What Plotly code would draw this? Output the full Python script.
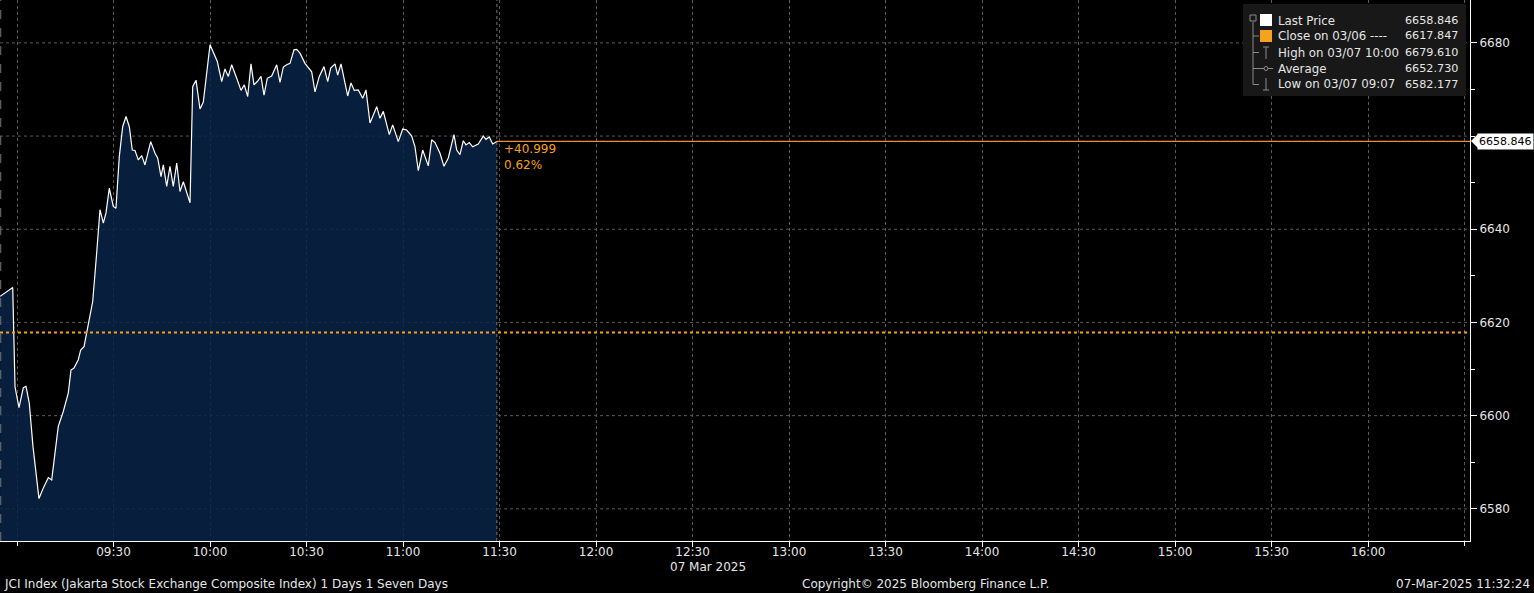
import plotly.graph_objects as go

# ---------------- data ----------------
DAY = "2025-03-07"
times = [
    "08:54:45", "08:58:40", "08:59:23", "09:00:37", "09:01:58", "09:02:48", "09:03:49", "09:04:58",
    "09:06:50", "09:08:11", "09:09:44", "09:10:47", "09:11:49", "09:12:50", "09:14:23", "09:15:57",
    "09:16:47", "09:17:43", "09:19:03", "09:19:48", "09:20:50", "09:21:51", "09:22:41", "09:23:32",
    "09:24:46", "09:25:48", "09:26:50", "09:27:40", "09:28:41", "09:29:56", "09:30:46", "09:31:48",
    "09:32:51", "09:33:53", "09:34:55", "09:35:50", "09:36:41", "09:37:42", "09:38:46", "09:39:47",
    "09:41:34", "09:42:54", "09:43:44", "09:44:46", "09:45:29", "09:46:32", "09:47:33", "09:48:35",
    "09:49:39", "09:50:40", "09:51:42", "09:52:45", "09:53:47", "09:54:37", "09:55:39", "09:56:53",
    "09:57:55", "10:00:00", "10:01:01", "10:02:16", "10:03:38", "10:04:39", "10:05:41", "10:06:44",
    "10:08:18", "10:09:38", "10:10:39", "10:11:43", "10:12:44", "10:13:40", "10:14:42", "10:15:51",
    "10:16:47", "10:17:48", "10:19:10", "10:20:44", "10:21:45", "10:22:47", "10:23:50", "10:24:52",
    "10:26:06", "10:26:57", "10:27:58", "10:29:31", "10:31:36", "10:32:38", "10:33:58", "10:35:26",
    "10:36:35", "10:37:31", "10:38:51", "10:39:41", "10:40:43", "10:41:44", "10:42:48", "10:43:49",
    "10:44:51", "10:46:05", "10:47:28", "10:48:29", "10:49:44", "10:51:49", "10:52:50", "10:53:52",
    "10:55:44", "10:56:47", "10:58:32", "10:59:54", "11:01:08", "11:02:42", "11:03:43", "11:04:45",
    "11:06:07", "11:07:51", "11:08:54", "11:09:56", "11:11:29", "11:12:44", "11:14:04", "11:15:50",
    "11:16:41", "11:17:42", "11:18:44", "11:19:34", "11:20:36", "11:21:39", "11:23:23", "11:24:57",
    "11:25:47", "11:26:49", "11:27:52", "11:29:10",
]
values = [
    6625.6, 6627.5, 6606.2, 6601.7, 6606.0, 6606.3, 6602.7, 6593.4,
    6582.2, 6584.5, 6586.7, 6586.2, 6592.0, 6597.7, 6600.9, 6604.9,
    6609.8, 6610.2, 6612.0, 6614.1, 6614.8, 6618.4, 6622.0, 6624.5,
    6634.9, 6644.2, 6641.3, 6643.5, 6648.8, 6644.9, 6644.5, 6655.6,
    6662.0, 6664.2, 6662.0, 6657.0, 6656.9, 6654.9, 6655.8, 6653.8,
    6658.8, 6656.3, 6655.3, 6651.3, 6653.8, 6649.2, 6653.5, 6649.2,
    6654.2, 6648.1, 6650.2, 6647.7, 6645.7, 6670.6, 6672.0, 6665.8,
    6667.3, 6679.6, 6677.8, 6676.0, 6671.7, 6674.4, 6672.8, 6675.3,
    6672.4, 6669.8, 6671.0, 6668.5, 6675.5, 6671.0, 6671.7, 6672.8,
    6668.8, 6672.4, 6672.9, 6675.3, 6671.5, 6674.8, 6675.3, 6675.6,
    6678.5, 6678.6, 6677.8, 6675.6, 6673.8, 6669.5, 6672.8, 6674.9,
    6671.7, 6674.6, 6675.5, 6673.1, 6675.5, 6672.1, 6668.6, 6671.4,
    6669.8, 6669.9, 6668.1, 6669.9, 6662.8, 6666.3, 6663.8, 6665.3,
    6660.3, 6662.4, 6658.8, 6661.5, 6661.3, 6660.0, 6657.7, 6652.6,
    6657.0, 6653.6, 6659.2, 6658.6, 6656.3, 6653.5, 6655.3, 6660.3,
    6657.0, 6656.0, 6659.0, 6658.1, 6658.6, 6657.7, 6658.3, 6660.0,
    6659.3, 6659.8, 6658.3, 6658.846,
]
last_price = 6658.846
prev_close = 6617.847
change_abs = "+40.999"
change_pct = "0.62%"
legend_labels = ["Last Price", "Close on 03/06 ----", "High on 03/07 10:00", "Average", "Low on 03/07 09:07"]
legend_values = ["6658.846", "6617.847", "6679.610", "6652.730", "6582.177"]
y_ticks = [6580, 6600, 6620, 6640, 6680]
x_tick_labels = ["09:30", "10:00", "10:30", "11:00", "11:30", "12:00", "12:30", "13:00",
                 "13:30", "14:00", "14:30", "15:00", "15:30", "16:00"]
x_range = ["08:54:43", "16:31:40"]
y_range = [6573.1, 6689.2]
date_label = "07 Mar 2025"
footer_left = "JCI Index (Jakarta Stock Exchange Composite Index) 1 Days 1 Seven Days"
footer_mid = "Copyright\u00a9 2025 Bloomberg Finance L.P."
footer_right = "07-Mar-2025 11:32:24"

# ---------------- layout helpers ----------------
W, H = 1534, 593
ML, MR, MT, MB = 0, 64, 0, 52
PW, PH = W - ML - MR, H - MT - MB


def px(x):
    return (x - ML) / PW


def py(y):
    return (H - MB - y) / PH


FONT = "DejaVu Sans"
TXT = "#e6e6e6"
ORANGE = "#f5a21c"
LASTC = "#ec8f3c"
GRID = "#5a5a5a"

xs = [f"{DAY} {t}" for t in times]

fig = go.Figure()
fig.add_trace(go.Scatter(
    x=xs, y=values, mode="lines",
    line=dict(color="#ffffff", width=1.2),
    fill="tozeroy", fillcolor="rgba(8,36,70,0.85)",
    hoverinfo="skip", showlegend=False,
))

shapes = []
# previous close dotted line
shapes.append(dict(type="line", xref="paper", x0=0, x1=1, yref="y", y0=prev_close, y1=prev_close,
                   line=dict(color=ORANGE, width=2, dash="dot"), layer="above"))
# last price line from last point to the right
shapes.append(dict(type="line", xref="x", x0=xs[-1], x1=f"{DAY} {x_range[1]}", yref="y",
                   y0=last_price, y1=last_price, line=dict(color=LASTC, width=1.3), layer="above"))
# vertical dotted line at last data time
shapes.append(dict(type="line", xref="x", x0=xs[-1], x1=xs[-1], yref="paper", y0=0, y1=1,
                   line=dict(color="#777777", width=1, dash="dot"), layer="above"))
# left edge dashed line
shapes.append(dict(type="line", xref="paper", x0=0.0005, x1=0.0005, yref="paper", y0=0, y1=1,
                   line=dict(color="#777777", width=1, dash="dash"), layer="above"))

# legend box
shapes.append(dict(type="rect", xref="paper", yref="paper", x0=px(1243), x1=px(1466), y0=py(96), y1=py(4),
                   fillcolor="#181818", line=dict(width=0), layer="above"))
row_y = [20.5, 36, 52.5, 68.5, 84.5]
# tree lines
G = "#8a8a8a"
shapes.append(dict(type="rect", xref="paper", yref="paper", x0=px(1250), x1=px(1256), y0=py(21), y1=py(15),
                   line=dict(color=G, width=1), layer="above"))
shapes.append(dict(type="line", xref="paper", yref="paper", x0=px(1253), x1=px(1253), y0=py(22), y1=py(row_y[4]),
                   line=dict(color=G, width=1), layer="above"))
for ry in row_y[1:]:
    shapes.append(dict(type="line", xref="paper", yref="paper", x0=px(1253), x1=px(1259), y0=py(ry), y1=py(ry),
                       line=dict(color=G, width=1), layer="above"))
# icons
shapes.append(dict(type="rect", xref="paper", yref="paper", x0=px(1260), x1=px(1272), y0=py(26), y1=py(14),
                   fillcolor="#ffffff", line=dict(width=0), layer="above"))
shapes.append(dict(type="rect", xref="paper", yref="paper", x0=px(1260), x1=px(1272), y0=py(42), y1=py(30),
                   fillcolor=ORANGE, line=dict(width=0), layer="above"))
# high icon
shapes.append(dict(type="line", xref="paper", yref="paper", x0=px(1266), x1=px(1266), y0=py(59), y1=py(47),
                   line=dict(color=G, width=1), layer="above"))
shapes.append(dict(type="line", xref="paper", yref="paper", x0=px(1263), x1=px(1269), y0=py(47), y1=py(47),
                   line=dict(color=G, width=1), layer="above"))
# average icon
shapes.append(dict(type="line", xref="paper", yref="paper", x0=px(1259), x1=px(1273), y0=py(68.5), y1=py(68.5),
                   line=dict(color=G, width=1), layer="above"))
shapes.append(dict(type="circle", xref="paper", yref="paper", x0=px(1264), x1=px(1268), y0=py(70.5), y1=py(66.5),
                   line=dict(color=G, width=1), fillcolor="#181818", layer="above"))
# low icon
shapes.append(dict(type="line", xref="paper", yref="paper", x0=px(1266), x1=px(1266), y0=py(90), y1=py(78),
                   line=dict(color=G, width=1), layer="above"))
shapes.append(dict(type="line", xref="paper", yref="paper", x0=px(1263), x1=px(1269), y0=py(90), y1=py(90),
                   line=dict(color=G, width=1), layer="above"))
# pointer of the last price tag
shapes.append(dict(type="path", xref="paper", yref="paper",
                   path=f"M {px(1471)} {py(141)} L {px(1478)} {py(134)} L {px(1478)} {py(148)} Z",
                   fillcolor="#ffffff", line=dict(width=0), layer="above"))

annotations = []
for lab, val, ry in zip(legend_labels, legend_values, row_y):
    annotations.append(dict(xref="paper", yref="paper", x=px(1276), y=py(ry), text=lab, showarrow=False,
                            xanchor="left", yanchor="middle", font=dict(family=FONT, size=11.8, color=TXT)))
    annotations.append(dict(xref="paper", yref="paper", x=px(1460), y=py(ry), text=val, showarrow=False,
                            xanchor="right", yanchor="middle", font=dict(family=FONT, size=11.2, color=TXT)))

annotations.append(dict(xref="x", yref="paper", x=xs[-1], y=py(149), xshift=5, text=change_abs, showarrow=False,
                        xanchor="left", yanchor="middle", font=dict(family=FONT, size=12, color=ORANGE)))
annotations.append(dict(xref="x", yref="paper", x=xs[-1], y=py(165), xshift=5, text=change_pct, showarrow=False,
                        xanchor="left", yanchor="middle", font=dict(family=FONT, size=12, color=ORANGE)))
annotations.append(dict(xref="paper", yref="y", x=px(1477), y=last_price, text=f"{last_price:.3f}", showarrow=False,
                        xanchor="left", yanchor="middle", bgcolor="#ffffff", borderpad=1,
                        font=dict(family=FONT, size=11, color="#000000")))
annotations.append(dict(xref="x", yref="paper", x=f"{DAY} 12:30:00", y=py(567), xshift=15, text=date_label,
                        showarrow=False, xanchor="center", yanchor="middle",
                        font=dict(family=FONT, size=12, color=TXT)))
annotations.append(dict(xref="paper", yref="paper", x=px(2), y=py(584), text=footer_left, showarrow=False,
                        xanchor="left", yanchor="middle", font=dict(family=FONT, size=12, color=TXT)))
annotations.append(dict(xref="paper", yref="paper", x=px(925), y=py(584), text=footer_mid, showarrow=False,
                        xanchor="center", yanchor="middle", font=dict(family=FONT, size=12, color=TXT)))
annotations.append(dict(xref="paper", yref="paper", x=px(1532), y=py(584), text=footer_right, showarrow=False,
                        xanchor="right", yanchor="middle", font=dict(family=FONT, size=12, color=TXT)))

fig.update_layout(
    width=W, height=H,
    margin=dict(l=ML, r=MR, t=MT, b=MB, pad=0),
    paper_bgcolor="#000000", plot_bgcolor="#000000",
    font=dict(family=FONT, size=12, color=TXT),
    shapes=shapes, annotations=annotations, showlegend=False,
    xaxis=dict(
        type="date", range=[f"{DAY} {x_range[0]}", f"{DAY} {x_range[1]}"],
        tickmode="array", tickvals=[f"{DAY} {t}:00" for t in x_tick_labels], ticktext=x_tick_labels,
        ticks="outside", ticklen=5, tickcolor="#ffffff", tickwidth=1,
        ticklabelstandoff=-5,
        showline=True, linecolor="#ffffff", linewidth=1,
        showgrid=False, zeroline=False,
        tickfont=dict(family=FONT, size=12, color=TXT),
        minor=dict(tickmode="linear", tick0=f"{DAY} 09:00:00", dtick=30 * 60 * 1000,
                   ticks="outside", ticklen=4, tickcolor="#ffffff",
                   showgrid=True, gridcolor=GRID, griddash="dot", gridwidth=1),
    ),
    yaxis=dict(
        side="right", range=y_range,
        tickmode="array", tickvals=y_ticks, ticktext=[str(v) for v in y_ticks],
        ticks="outside", ticklen=6, tickcolor="#ffffff",
        showline=True, linecolor="#ffffff", linewidth=1,
        showgrid=False, zeroline=False,
        tickfont=dict(family=FONT, size=12, color=TXT),
        minor=dict(tickmode="linear", tick0=6580, dtick=10, ticks="outside", ticklen=4, tickcolor="#ffffff",
                   showgrid=False),
    ),
)
# horizontal gridlines every 20 (including 6660)
for gv in [6580, 6600, 6620, 6640, 6660, 6680]:
    fig.add_hline(y=gv, line=dict(color=GRID, width=1, dash="dot"), layer="below")

fig.write_html("out.html", config={"displayModeBar": False},
               post_script="document.body.style.margin='0';document.body.style.overflow='hidden';")
